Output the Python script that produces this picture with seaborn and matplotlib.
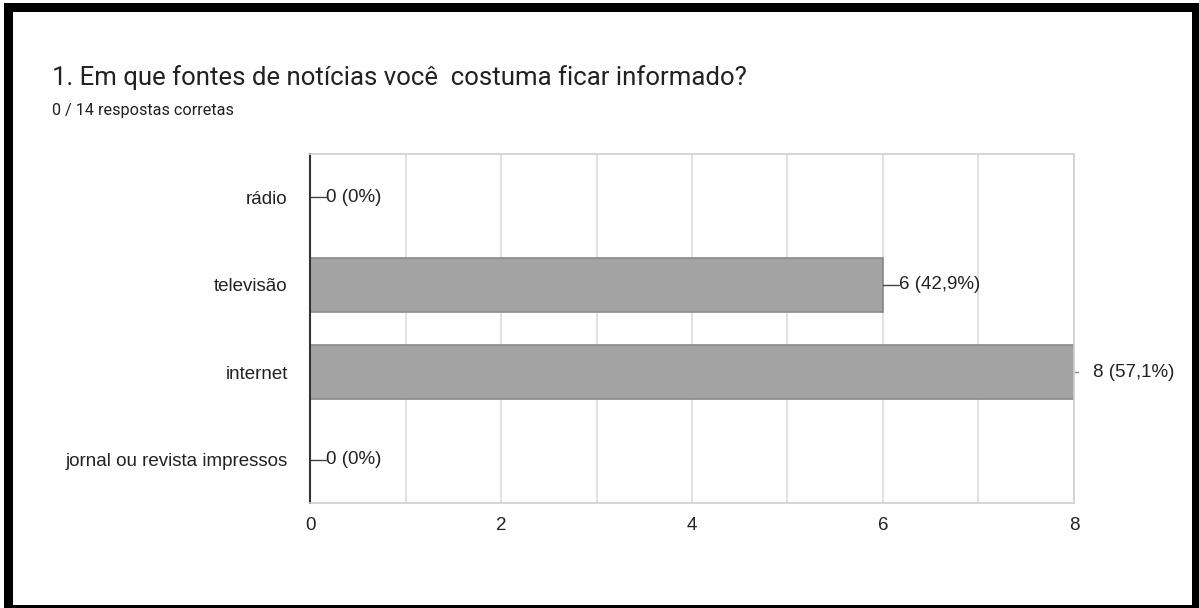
import matplotlib
matplotlib.use("Agg")
import matplotlib.pyplot as plt
from matplotlib.patches import Rectangle
import pandas as pd
import seaborn as sns

# data
categories = ['rádio', 'televisão', 'internet', 'jornal ou revista impressos']
counts = [0, 6, 8, 0]
total = 14

title = '1. Em que fontes de notícias você  costuma ficar informado?'
subtitle = '0 / 14 respostas corretas'

df = pd.DataFrame({'fonte': categories, 'n': counts})

sns.set_style('white')
plt.rcParams['font.family'] = ['Liberation Sans', 'DejaVu Sans']

fig = plt.figure(figsize=(11.99, 6.08), dpi=100)
ax = fig.add_axes([0.2586, 0.1727, 0.8957 - 0.2586, 0.7467 - 0.1727])

sns.barplot(data=df, x='n', y='fonte', orient='h', color='#a3a3a3',
            edgecolor='#8a8a8a', linewidth=1.2, width=0.62, saturation=1, ax=ax)

ax.set_xlim(0, 8)
ax.set_xticks([0, 2, 4, 6, 8])
ax.set_xticks([1, 3, 5, 7], minor=True)
ax.grid(True, which='both', axis='x', color='#dcdcdc', linewidth=1.2)
ax.set_axisbelow(True)
ax.tick_params(axis='both', which='both', length=0, labelsize=13.5, colors='#222222')
ax.tick_params(axis='x', pad=10)
ax.tick_params(axis='y', pad=16)
ax.set_xlabel('')
ax.set_ylabel('')

for side in ['top', 'right', 'bottom']:
    ax.spines[side].set_color('#d0d0d0')
    ax.spines[side].set_linewidth(1.2)
ax.spines['left'].set_color('#333333')
ax.spines['left'].set_linewidth(1.5)

# value labels with leader lines
xmax = ax.get_xlim()[1]
for i, n in enumerate(counts):
    pct = f'{100 * n / total:.1f}'.replace('.', ',').replace(',0', '')
    label = f'{n} ({pct}%)'
    if n >= xmax:
        ax.plot([n, n + 0.04], [i, i], color='#888888', lw=1, clip_on=False)
        ax.text(n + 0.2, i, label, va='center', ha='left', fontsize=13.5, color='#222222')
    else:
        ax.plot([n, n + 0.17], [i, i], color='#444444', lw=1, clip_on=False)
        ax.text(n + 0.17, i, label, va='center', ha='left', fontsize=13.5, color='#222222')

fig.text(0.0434, 0.873, title, fontsize=18.5, family=['Roboto', 'DejaVu Sans'],
         color='#202124', va='center', ha='left')
fig.text(0.0434, 0.819, subtitle, fontsize=11.7, family=['Roboto', 'DejaVu Sans'],
         color='#202124', va='center', ha='left')

# black frame around the screenshot
W, H = 1199, 608
for x0, y0, w, h in [(4, 3, 9, 605), (4, 3, 1195, 9), (1192, 3, 7, 605), (4, 605, 1195, 3)]:
    fig.add_artist(Rectangle((x0 / W, 1 - (y0 + h) / H), w / W, h / H,
                             transform=fig.transFigure, color='black', lw=0))

fig.savefig('out.png', dpi=100)
